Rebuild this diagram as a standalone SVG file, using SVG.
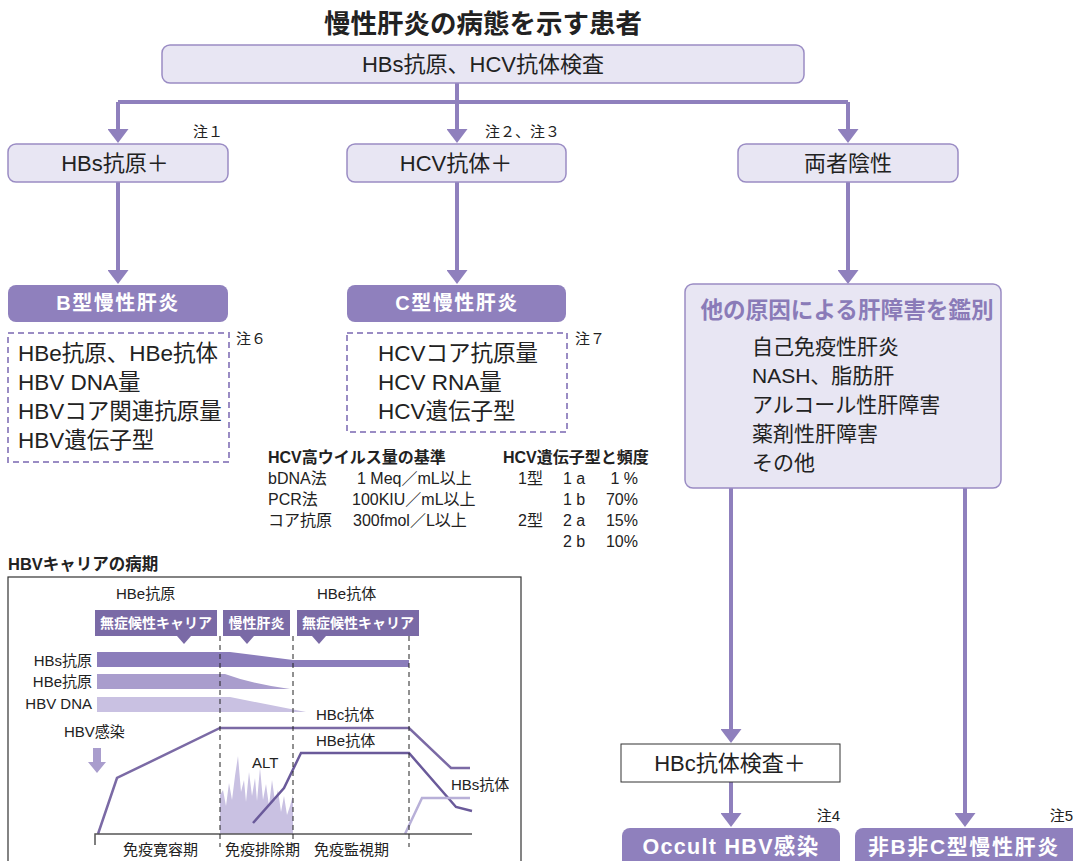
<svg xmlns="http://www.w3.org/2000/svg" width="1073" height="861" viewBox="0 0 1073 861">
<style>
text{font-family:"Liberation Sans","Noto Sans CJK JP",sans-serif;fill:#222}
.box{fill:#e8e6f3;stroke:#9a8cc4;stroke-width:1.5}
.dk{fill:#8f80bd}
.dash{fill:none;stroke:#9a8cc4;stroke-width:2;stroke-dasharray:6 4}
.conn{fill:none;stroke:#8f80bd;stroke-width:4}
.t21{font-size:22px}
.t22{font-size:22.5px}
.wb{fill:#fff;font-weight:bold}
.note{font-size:15px}
.tb{font-size:16px}
.tbb{font-size:16px;font-weight:bold}
.sm{font-size:15px}
.lab{fill:#7a6aa6}
.lt{fill:#fff;font-weight:bold;font-size:14px}
.vd{fill:none;stroke:#222;stroke-width:1;stroke-dasharray:5 4}
</style>
<defs>
<marker id="ah" markerUnits="userSpaceOnUse" markerWidth="14" markerHeight="21" viewBox="0 0 14 21" refX="4" refY="10.5" orient="auto">
<path d="M0,0 L14,10.5 L0,21 Z" fill="#8f80bd"/>
</marker>
</defs>

<text x="483" y="33" text-anchor="middle" style="font-size:26.5px;font-weight:bold">慢性肝炎の病態を示す患者</text>

<g id="connectors">
<path class="conn" d="M457,83 V102"/>
<path class="conn" d="M118,102 H848"/>
<path class="conn" d="M118,102 V133" marker-end="url(#ah)"/>
<path class="conn" d="M457,102 V133" marker-end="url(#ah)"/>
<path class="conn" d="M848,102 V133" marker-end="url(#ah)"/>
<path class="conn" d="M118,182 V274" marker-end="url(#ah)"/>
<path class="conn" d="M457,182 V274" marker-end="url(#ah)"/>
<path class="conn" d="M848,182 V274" marker-end="url(#ah)"/>
<path class="conn" d="M731,488 V733" marker-end="url(#ah)"/>
<path class="conn" d="M731,782 V817" marker-end="url(#ah)"/>
<path class="conn" d="M965,488 V817" marker-end="url(#ah)"/>
</g>

<g id="n-top">
<rect class="box" x="162" y="45" width="642" height="38" rx="8"/>
<text class="t21" x="483" y="72" text-anchor="middle">HBs抗原、HCV抗体検査</text>
</g>

<g id="n-hbs">
<rect class="box" x="8" y="144" width="220" height="38" rx="8"/>
<text class="t21" x="115" y="171" text-anchor="middle">HBs抗原＋</text>
<text class="note" x="223" y="137" text-anchor="end">注１</text>
</g>
<g id="n-hcv">
<rect class="box" x="347" y="144" width="219" height="38" rx="8"/>
<text class="t21" x="456" y="171" text-anchor="middle">HCV抗体＋</text>
<text class="note" x="485" y="137">注２、注３</text>
</g>
<g id="n-neg">
<rect class="box" x="738" y="144" width="220" height="38" rx="8"/>
<text class="t21" x="848" y="171" text-anchor="middle">両者陰性</text>
</g>

<g id="n-b">
<rect class="dk" x="8" y="285" width="220" height="37" rx="8"/>
<text class="wb" x="118" y="310" text-anchor="middle" style="font-size:20px;letter-spacing:1.5px">B型慢性肝炎</text>
</g>
<g id="n-b-detail">
<rect class="dash" x="8" y="333" width="221" height="129"/>
<text class="t22" x="18" y="361">HBe抗原、HBe抗体</text>
<text class="t22" x="18" y="390">HBV DNA量</text>
<text class="t22" x="18" y="419">HBVコア関連抗原量</text>
<text class="t22" x="18" y="448">HBV遺伝子型</text>
<text class="note" x="236" y="344">注６</text>
</g>

<g id="n-c">
<rect class="dk" x="347" y="285" width="219" height="37" rx="8"/>
<text class="wb" x="457" y="310" text-anchor="middle" style="font-size:20px;letter-spacing:1.5px">C型慢性肝炎</text>
</g>
<g id="n-c-detail">
<rect class="dash" x="347" y="333" width="220" height="99"/>
<text class="t22" x="378" y="361">HCVコア抗原量</text>
<text class="t22" x="378" y="390">HCV RNA量</text>
<text class="t22" x="378" y="419">HCV遺伝子型</text>
<text class="note" x="575" y="344">注７</text>
</g>

<g id="n-hcv-tables">
<text class="tbb" x="268" y="463">HCV高ウイルス量の基準</text>
<text class="tb" x="268" y="484">bDNA法</text>
<text class="tb" x="357" y="484">1 Meq／mL以上</text>
<text class="tb" x="268" y="505">PCR法</text>
<text class="tb" x="352" y="505">100KIU／mL以上</text>
<text class="tb" x="268" y="526">コア抗原</text>
<text class="tb" x="353" y="526">300fmol／L以上</text>
<text class="tbb" x="503" y="463">HCV遺伝子型と頻度</text>
<text class="tb" x="518" y="484">1型</text>
<text class="tb" x="563" y="484">1 a</text>
<text class="tb" x="638" y="484" text-anchor="end">1 %</text>
<text class="tb" x="563" y="505">1 b</text>
<text class="tb" x="638" y="505" text-anchor="end">70%</text>
<text class="tb" x="518" y="526">2型</text>
<text class="tb" x="563" y="526">2 a</text>
<text class="tb" x="638" y="526" text-anchor="end">15%</text>
<text class="tb" x="563" y="547">2 b</text>
<text class="tb" x="638" y="547" text-anchor="end">10%</text>
</g>

<g id="n-other">
<rect class="box" x="685" y="284" width="316" height="204" rx="8"/>
<text x="847" y="318" text-anchor="middle" style="font-size:22.6px;font-weight:bold;fill:#8a7bb8">他の原因による肝障害を鑑別</text>
<text class="t21" x="752" y="354" style="font-size:21px">自己免疫性肝炎</text>
<text class="t21" x="752" y="383" style="font-size:21px">NASH、脂肪肝</text>
<text class="t21" x="752" y="412" style="font-size:21px">アルコール性肝障害</text>
<text class="t21" x="752" y="441" style="font-size:21px">薬剤性肝障害</text>
<text class="t21" x="752" y="470" style="font-size:21px">その他</text>
</g>

<g id="n-hbc">
<rect x="621" y="744" width="219" height="38" fill="#fff" stroke="#333" stroke-width="1"/>
<text class="t21" x="730" y="771" text-anchor="middle">HBc抗体検査＋</text>
</g>
<g id="n-occult">
<rect class="dk" x="622" y="828" width="218" height="50" rx="8"/>
<text class="wb" x="731" y="854" text-anchor="middle" style="font-size:21.5px;letter-spacing:1.3px">Occult HBV感染</text>
<text class="note" x="840" y="821" text-anchor="end">注4</text>
</g>
<g id="n-nonbc">
<rect class="dk" x="855" y="828" width="240" height="50" rx="8"/>
<text class="wb" x="868" y="854" style="font-size:21px;letter-spacing:1.6px">非B非C型慢性肝炎</text>
<text class="note" x="1073" y="821" text-anchor="end">注5</text>
</g>

<g id="hbv-chart">
<text x="8" y="570" style="font-size:16.5px;font-weight:bold">HBVキャリアの病期</text>
<rect x="8" y="577" width="513" height="300" fill="none" stroke="#333" stroke-width="1.2"/>
<text class="sm" x="116" y="599">HBe抗原</text>
<text class="sm" x="317" y="599">HBe抗体</text>

<rect class="lab" x="95" y="610" width="122" height="26"/>
<path class="lab" d="M177,636 L191,636 L184,644 Z"/>
<text class="lt" x="156" y="628" text-anchor="middle">無症候性キャリア</text>
<rect class="lab" x="223" y="610" width="67" height="26"/>
<path class="lab" d="M240,636 L254,636 L247,644 Z"/>
<text class="lt" x="256.5" y="628" text-anchor="middle">慢性肝炎</text>
<rect class="lab" x="297" y="610" width="122" height="26"/>
<path class="lab" d="M312,636 L326,636 L319,644 Z"/>
<text class="lt" x="358" y="628" text-anchor="middle">無症候性キャリア</text>

<text class="sm" x="92" y="666" text-anchor="end">HBs抗原</text>
<text class="sm" x="92" y="687" text-anchor="end">HBe抗原</text>
<text class="sm" x="92" y="709" text-anchor="end">HBV DNA</text>
<path d="M97,652 L230,652 L293,660 L409,660 L409,667 L97,667 Z" fill="#8b7dbb"/>
<path d="M97,674 L225,674 Q252,684 290,689 L97,689 Z" fill="#a99dcd"/>
<path d="M97,697 L230,697 L306,712 L97,712 Z" fill="#c9c1e2"/>

<path d="M220,834 L220,795 L223,790 L226,806 L229,783 L232,800 L235,776 L238,756 L241,792 L244,780 L246,802 L249,772 L252,796 L255,778 L257,801 L260,768 L263,800 L266,784 L269,806 L272,780 L275,801 L278,790 L281,812 L284,796 L287,815 L290,806 L293,795 L293,834 Z" fill="#c9c1e2"/>

<text class="sm" x="316" y="720">HBc抗体</text>
<text class="sm" x="316" y="746">HBe抗体</text>
<text class="sm" x="252" y="768">ALT</text>
<text class="sm" x="451" y="790">HBs抗体</text>
<text class="sm" x="64" y="737">HBV感染</text>
<path d="M93,748 L101,748 L101,762 L106,762 L97,773 L88,762 L93,762 Z" fill="#a99dcd"/>

<path d="M98,834 L117,778 L220,728 L409,728 L451,768 L470,768" fill="none" stroke="#7b6aa5" stroke-width="2.5"/>
<path d="M253,823 L284,788 L301,753 L409,753 L456,807 L472,811" fill="none" stroke="#6a5a9a" stroke-width="2.5"/>
<path d="M405,834 L422,798 L470,798" fill="none" stroke="#b8b0d8" stroke-width="2.5"/>

<path d="M95,845 V834 H472" fill="none" stroke="#555" stroke-width="1.5"/>
<path class="vd" d="M220,636 V847"/>
<path class="vd" d="M293,636 V847"/>
<path class="vd" d="M409,636 V847"/>

<text class="sm" x="123" y="855">免疫寛容期</text>
<text class="sm" x="225" y="855">免疫排除期</text>
<text class="sm" x="314" y="855">免疫監視期</text>
</g>
</svg>
